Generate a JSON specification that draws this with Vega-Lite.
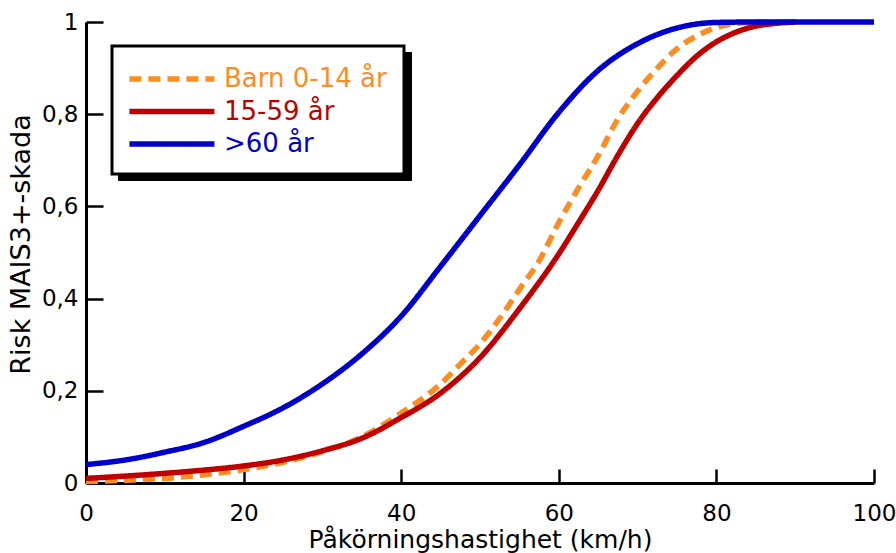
{
  "$schema": "https://vega.github.io/schema/vega-lite/v6.json",
  "width": 788,
  "height": 461,
  "autosize": {"type": "none"},
  "padding": {"left": 86, "top": 22, "right": 22, "bottom": 70},
  "background": "white",
  "config": {
    "view": {"stroke": null},
    "font": "DejaVu Sans",
    "axis": {
      "domainColor": "black",
      "domainWidth": 3,
      "tickColor": "black",
      "tickWidth": 2.5,
      "labelColor": "black",
      "labelFont": "DejaVu Sans",
      "labelFontSize": 23,
      "titleFont": "DejaVu Sans",
      "titleFontSize": 25,
      "titleFontWeight": "normal",
      "titleColor": "black",
      "grid": false,
      "labelFlush": false,
      "labelOverlap": false
    },
    "legend": {
      "title": null,
      "orient": "none",
      "padding": 17,
      "strokeColor": "black",
      "symbolType": "M-1.2,0H5.34",
      "symbolSize": 676,
      "symbolStrokeWidth": 5.5,
      "labelFont": "DejaVu Sans",
      "labelFontSize": 26,
      "labelOffset": 63,
      "rowPadding": 3.5,
      "labelLimit": 0
    }
  },
  "data": {
    "values": [
      {"group": "Barn 0-14 år", "speed": 0, "risk": 0.003},
      {"group": "Barn 0-14 år", "speed": 5, "risk": 0.006},
      {"group": "Barn 0-14 år", "speed": 10, "risk": 0.010},
      {"group": "Barn 0-14 år", "speed": 15, "risk": 0.018},
      {"group": "Barn 0-14 år", "speed": 20, "risk": 0.029},
      {"group": "Barn 0-14 år", "speed": 25, "risk": 0.045},
      {"group": "Barn 0-14 år", "speed": 30, "risk": 0.068},
      {"group": "Barn 0-14 år", "speed": 35, "risk": 0.100},
      {"group": "Barn 0-14 år", "speed": 40, "risk": 0.152},
      {"group": "Barn 0-14 år", "speed": 45, "risk": 0.215},
      {"group": "Barn 0-14 år", "speed": 47.5, "risk": 0.258},
      {"group": "Barn 0-14 år", "speed": 50, "risk": 0.302},
      {"group": "Barn 0-14 år", "speed": 52.5, "risk": 0.357},
      {"group": "Barn 0-14 år", "speed": 55, "risk": 0.420},
      {"group": "Barn 0-14 år", "speed": 57.5, "risk": 0.482},
      {"group": "Barn 0-14 år", "speed": 60, "risk": 0.565},
      {"group": "Barn 0-14 år", "speed": 62.5, "risk": 0.640},
      {"group": "Barn 0-14 år", "speed": 65, "risk": 0.710},
      {"group": "Barn 0-14 år", "speed": 67.5, "risk": 0.790},
      {"group": "Barn 0-14 år", "speed": 70, "risk": 0.850},
      {"group": "Barn 0-14 år", "speed": 72.5, "risk": 0.900},
      {"group": "Barn 0-14 år", "speed": 75, "risk": 0.942},
      {"group": "Barn 0-14 år", "speed": 77.5, "risk": 0.970},
      {"group": "Barn 0-14 år", "speed": 80, "risk": 0.988},
      {"group": "Barn 0-14 år", "speed": 82.5, "risk": 0.997},
      {"group": "Barn 0-14 år", "speed": 85, "risk": 1.0},
      {"group": "Barn 0-14 år", "speed": 90, "risk": 1.0},
      {"group": "15-59 år", "speed": 0, "risk": 0.010},
      {"group": "15-59 år", "speed": 5, "risk": 0.015},
      {"group": "15-59 år", "speed": 10, "risk": 0.021},
      {"group": "15-59 år", "speed": 15, "risk": 0.028},
      {"group": "15-59 år", "speed": 20, "risk": 0.037},
      {"group": "15-59 år", "speed": 25, "risk": 0.050},
      {"group": "15-59 år", "speed": 30, "risk": 0.070},
      {"group": "15-59 år", "speed": 35, "risk": 0.097},
      {"group": "15-59 år", "speed": 40, "risk": 0.142},
      {"group": "15-59 år", "speed": 45, "risk": 0.195},
      {"group": "15-59 år", "speed": 50, "risk": 0.272},
      {"group": "15-59 år", "speed": 55, "risk": 0.378},
      {"group": "15-59 år", "speed": 60, "risk": 0.497},
      {"group": "15-59 år", "speed": 62.5, "risk": 0.565},
      {"group": "15-59 år", "speed": 65, "risk": 0.635},
      {"group": "15-59 år", "speed": 67.5, "risk": 0.711},
      {"group": "15-59 år", "speed": 70, "risk": 0.780},
      {"group": "15-59 år", "speed": 72.5, "risk": 0.836},
      {"group": "15-59 år", "speed": 75, "risk": 0.884},
      {"group": "15-59 år", "speed": 77.5, "risk": 0.926},
      {"group": "15-59 år", "speed": 80, "risk": 0.957},
      {"group": "15-59 år", "speed": 82.5, "risk": 0.978},
      {"group": "15-59 år", "speed": 85, "risk": 0.991},
      {"group": "15-59 år", "speed": 87.5, "risk": 0.997},
      {"group": "15-59 år", "speed": 90, "risk": 1.0},
      {"group": ">60 år", "speed": 0, "risk": 0.040},
      {"group": ">60 år", "speed": 5, "risk": 0.050},
      {"group": ">60 år", "speed": 10, "risk": 0.067},
      {"group": ">60 år", "speed": 15, "risk": 0.088},
      {"group": ">60 år", "speed": 20, "risk": 0.123},
      {"group": ">60 år", "speed": 25, "risk": 0.163},
      {"group": ">60 år", "speed": 30, "risk": 0.215},
      {"group": ">60 år", "speed": 35, "risk": 0.280},
      {"group": ">60 år", "speed": 40, "risk": 0.362},
      {"group": ">60 år", "speed": 45, "risk": 0.470},
      {"group": ">60 år", "speed": 50, "risk": 0.580},
      {"group": ">60 år", "speed": 55, "risk": 0.690},
      {"group": ">60 år", "speed": 60, "risk": 0.804},
      {"group": ">60 år", "speed": 65, "risk": 0.895},
      {"group": ">60 år", "speed": 70, "risk": 0.953},
      {"group": ">60 år", "speed": 75, "risk": 0.987},
      {"group": ">60 år", "speed": 80, "risk": 0.999},
      {"group": ">60 år", "speed": 85, "risk": 1.0},
      {"group": ">60 år", "speed": 90, "risk": 1.0},
      {"group": ">60 år", "speed": 100, "risk": 1.0}
    ]
  },
  "encoding": {
    "x": {
      "field": "speed",
      "type": "quantitative",
      "scale": {"domain": [0, 100], "nice": false, "zero": false},
      "axis": {
        "values": [0, 20, 40, 60, 80, 100],
        "tickSize": -14,
        "labelPadding": 33,
        "title": "Påkörningshastighet (km/h)",
        "titlePadding": 2
      }
    },
    "y": {
      "field": "risk",
      "type": "quantitative",
      "scale": {"domain": [0, 1], "nice": false},
      "axis": {
        "values": [0, 0.2, 0.4, 0.6, 0.8, 1],
        "tickSize": -17,
        "labelPadding": 25,
        "labelExpr": "replace(format(datum.value, '.1~f'), '.', ',')",
        "title": "Risk MAIS3+-skada",
        "titleFontSize": 27,
        "titleY": 222,
        "titlePadding": 6
      }
    }
  },
  "layer": [
    {
      "mark": {"type": "point", "opacity": 0},
      "encoding": {
        "shape": {
          "field": "group",
          "type": "nominal",
          "sort": null,
          "scale": {
            "domain": [">60 år", "15-59 år", "Barn 0-14 år"],
            "range": ["M-1.2,0H5.34", "M-1.2,0H5.34", "M-1.2,0H5.34"]
          },
          "legend": {
            "legendX": 32,
            "legendY": 30,
            "fillColor": "black",
            "zindex": 0,
            "labelOpacity": 0,
            "symbolOpacity": 0,
            "labelExpr": "' '",
            "labelOffset": 227
          }
        }
      }
    },
    {
      "mark": {"type": "line", "strokeWidth": 5.5, "interpolate": "monotone"},
      "encoding": {
        "color": {
          "field": "group",
          "type": "nominal",
          "sort": null,
          "scale": {
            "domain": ["Barn 0-14 år", "15-59 år", ">60 år"],
            "range": ["#FF8C1E", "#C00000", "#0000CC"]
          },
          "legend": {
            "legendX": 26,
            "legendY": 24,
            "fillColor": "white",
            "zindex": 1,
            "encoding": {
              "legend": {"strokeWidth": {"value": 3}},
              "labels": {
                "fill": {
                  "condition": [
                    {"test": "datum.value === 'Barn 0-14 år'", "value": "#FF8C1E"},
                    {"test": "datum.value === '15-59 år'", "value": "#C00000"}
                  ],
                  "value": "#0000CC"
                }
              }
            }
          }
        },
        "strokeDash": {
          "field": "group",
          "type": "nominal",
          "sort": null,
          "scale": {
            "domain": ["Barn 0-14 år", "15-59 år", ">60 år"],
            "range": [[12, 7], [1, 0], [1, 0]]
          },
          "legend": {
            "legendX": 26,
            "legendY": 24,
            "fillColor": "white",
            "zindex": 1,
            "encoding": {
              "legend": {"strokeWidth": {"value": 3}},
              "labels": {
                "fill": {
                  "condition": [
                    {"test": "datum.value === 'Barn 0-14 år'", "value": "#FF8C1E"},
                    {"test": "datum.value === '15-59 år'", "value": "#C00000"}
                  ],
                  "value": "#0000CC"
                }
              }
            }
          }
        }
      }
    }
  ]
}
